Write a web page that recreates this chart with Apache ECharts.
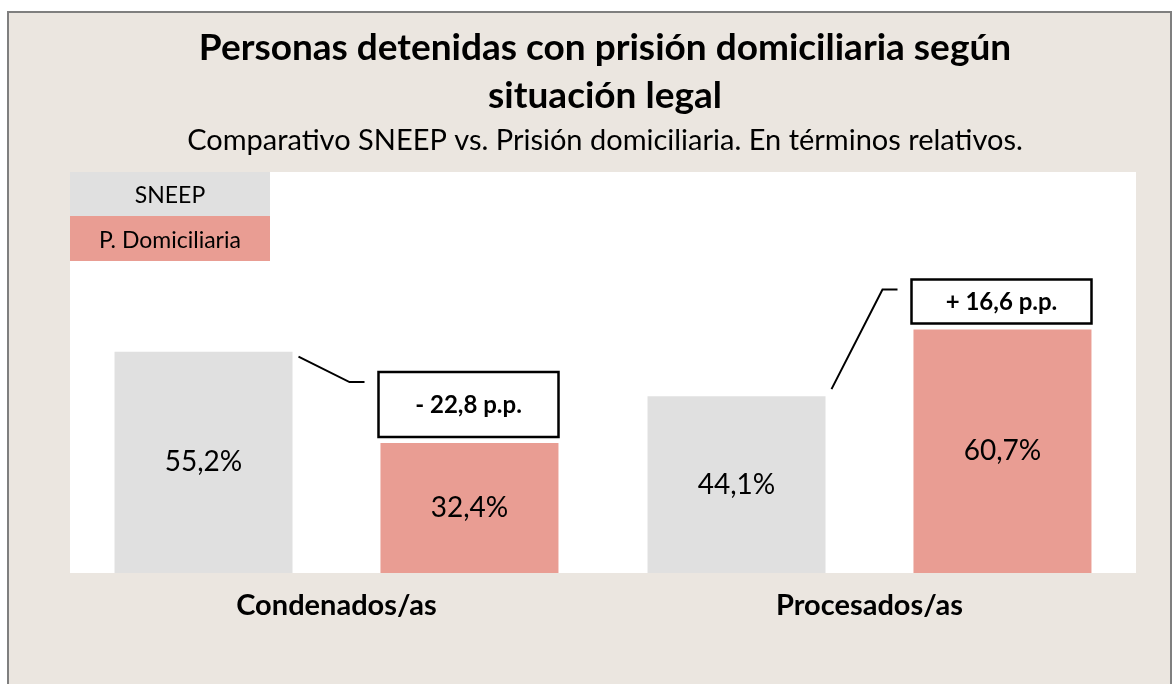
<!DOCTYPE html>
<html>
<head>
<meta charset="utf-8">
<script src="https://cdn.jsdelivr.net/npm/echarts@6/dist/echarts.min.js"></script>
<style>
  html, body { margin: 0; padding: 0; background: #fff; }
  #chart { width: 1173px; height: 684px; }
</style>
</head>
<body>
<div id="chart"></div>
<script>
// data
var categories = ['Condenados/as', 'Procesados/as'];
var sneep = [55.2, 44.1];
var domiciliaria = [32.4, 60.7];
var seriesNames = ['SNEEP', 'P. Domiciliaria'];

// styles
var GRAY = '#e0e0e0';
var SALMON = '#e99d93';
var BG = '#ebe6e0';
var FONT = 'Lato, "Open Sans", sans-serif';
var BAR_W = 178;
var BAR_GAP = 88;
var boxHeights = [65, 44];

function fmt(v) {
  return v.toFixed(1).replace('.', ',');
}

var chart = echarts.init(document.getElementById('chart'), null, { renderer: 'canvas' });

var option = {
  animation: false,
  textStyle: { fontFamily: FONT },
  title: {
    text: 'Personas detenidas con prisión domiciliaria según\nsituación legal',
    subtext: 'Comparativo SNEEP vs. Prisión domiciliaria. En términos relativos.',
    left: 605,
    top: 24,
    textAlign: 'center',
    padding: 0,
    itemGap: 4,
    textStyle: { fontFamily: FONT, fontSize: 37, fontWeight: 'bold', color: '#000', lineHeight: 48 },
    subtextStyle: { fontFamily: FONT, fontSize: 29, color: '#000', lineHeight: 34 }
  },
  grid: {
    left: 70, right: 37, top: 172, bottom: 111,
    show: true, backgroundColor: '#fff', borderWidth: 0, z: 1
  },
  xAxis: {
    type: 'category',
    data: categories,
    axisLine: { show: false },
    axisTick: { show: false },
    axisLabel: { margin: 18, fontFamily: FONT, fontSize: 29, fontWeight: 'bold', color: '#000' },
    splitLine: { show: true, lineStyle: { color: ['transparent', '#000', 'transparent'], width: 1.5 } }
  },
  yAxis: { type: 'value', min: 0, max: 100, show: false },
  graphic: [
    { type: 'rect', z: -100, shape: { x: 8, y: 12, width: 1163, height: 700 },
      style: { fill: BG, stroke: '#7f7f7f', lineWidth: 2 } },
    { type: 'rect', z: 100, shape: { x: 70, y: 172, width: 200, height: 44 }, style: { fill: GRAY } },
    { type: 'rect', z: 100, shape: { x: 70, y: 216, width: 200, height: 45 }, style: { fill: SALMON } },
    { type: 'text', z: 101, x: 170, y: 196,
      style: { text: seriesNames[0], font: '23px ' + FONT, fill: '#000', align: 'center', verticalAlign: 'middle' } },
    { type: 'text', z: 101, x: 170, y: 241,
      style: { text: seriesNames[1], font: '23px ' + FONT, fill: '#000', align: 'center', verticalAlign: 'middle' } }
  ],
  series: [
    {
      name: seriesNames[0], type: 'bar', data: sneep, barWidth: BAR_W,
      barGap: (BAR_GAP / BAR_W * 100).toFixed(1) + '%',
      itemStyle: { color: GRAY },
      label: { show: true, position: 'inside', fontFamily: FONT, fontSize: 28, color: '#000',
               formatter: function (p) { return fmt(p.value) + '%'; } }
    },
    {
      name: seriesNames[1], type: 'bar', data: domiciliaria, barWidth: BAR_W,
      itemStyle: { color: SALMON },
      label: { show: true, position: 'inside', fontFamily: FONT, fontSize: 28, color: '#000',
               formatter: function (p) { return fmt(p.value) + '%'; } }
    },
    {
      type: 'custom',
      z: 5,
      clip: false,
      data: sneep.map(function (v, i) { return [i, v, domiciliaria[i]]; }),
      renderItem: function (params, api) {
        var i = api.value(0);
        var c = api.coord([i, 0]);
        var grayTop = api.coord([i, api.value(1)])[1];
        var domTop = api.coord([i, api.value(2)])[1];
        var grayRight = c[0] - BAR_GAP / 2;
        var domLeft = c[0] + BAR_GAP / 2;
        var h = boxHeights[i];
        var bx = domLeft - 2, by = domTop - 6 - h, bw = BAR_W + 2;
        var ly = by + 10;
        var sy = grayTop + (ly > grayTop ? 5 : -7);
        var diff = api.value(2) - api.value(1);
        var txt = (diff < 0 ? '- ' : '+ ') + fmt(Math.abs(diff)) + ' p.p.';
        return {
          type: 'group',
          children: [
            { type: 'polyline',
              shape: { points: [[grayRight + 6, sy], [bx - 29, ly], [bx - 14, ly]] },
              style: { stroke: '#000', lineWidth: 2, fill: null } },
            { type: 'rect', shape: { x: bx, y: by, width: bw, height: h },
              style: { fill: '#fff', stroke: '#000', lineWidth: 2.5 } },
            { type: 'text', x: bx + bw / 2, y: by + h / 2 + 1,
              style: { text: txt, font: 'bold 24px ' + FONT, fill: '#000', align: 'center', verticalAlign: 'middle' } }
          ]
        };
      }
    }
  ]
};

chart.setOption(option);
window.addEventListener('resize', chart.resize);
</script>
</body>
</html>
